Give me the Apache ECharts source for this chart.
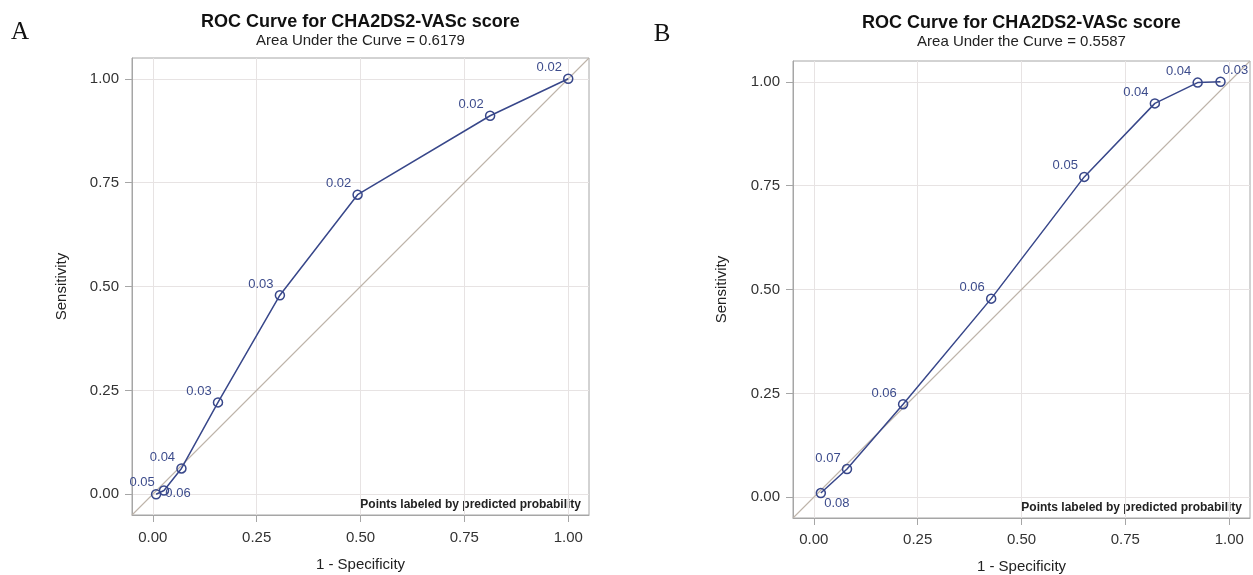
<!DOCTYPE html>
<html>
<head>
<meta charset="utf-8">
<script src="https://cdn.jsdelivr.net/npm/echarts@6/dist/echarts.min.js"></script>
<style>
  html, body { margin: 0; padding: 0; background: #ffffff; }
  #chart { width: 1253px; height: 575px; }
</style>
</head>
<body>
<div id="chart"></div>
<script>
// ---- data ----
const panelLetters = ['A', 'B'];
const chartTitle = 'ROC Curve for CHA2DS2-VASc score';
const aucValues = ['0.6179', '0.5587'];
const tickValues = [0, 0.25, 0.5, 0.75, 1];
const axisRange = [-0.05, 1.05];
const xAxisTitle = '1 - Specificity';
const yAxisTitle = 'Sensitivity';
const footnote = 'Points labeled by predicted probability';

const rocA_fpr = [0.008, 0.027, 0.069, 0.157, 0.306, 0.493, 0.812, 1.0];
const rocA_tpr = [0.000, 0.009, 0.062, 0.221, 0.479, 0.721, 0.911, 1.0];
const rocA_labels = ['0.05', '0.06', '0.04', '0.03', '0.03', '0.02', '0.02', '0.02'];

const rocB_fpr = [0.017, 0.080, 0.215, 0.427, 0.651, 0.821, 0.924, 0.979];
const rocB_tpr = [0.010, 0.068, 0.224, 0.478, 0.771, 0.948, 0.998, 1.0];
const rocB_labels = ['0.08', '0.07', '0.06', '0.06', '0.05', '0.04', '0.04', '0.03'];

const diagonal = [axisRange[0], axisRange[1]];

// ---- styling / layout ----
const FONT = '"Liberation Sans", Arial, sans-serif';
const lineColor = '#38478a';
const labelColor = '#3d4c8c';
const diagColor = '#bdb3a9';
const frameColor = '#a6a6a6';
const gridColor = '#e7e3e3';

const grids = [
  { left: 132, top: 58, width: 457, height: 457 },
  { left: 793, top: 61, width: 457, height: 457 }
];
const defaultOffset = [-19, -11];
const offsetOverrides = [
  { 0: [-14, -12], 1: [14, 3] },
  { 0: [16, 10], 7: [15, -11] }
];
const panels = [
  { fpr: rocA_fpr, tpr: rocA_tpr, labels: rocA_labels },
  { fpr: rocB_fpr, tpr: rocB_tpr, labels: rocB_labels }
];

function fmt(v) { return Number(v).toFixed(2); }

const xAxes = grids.map((g, i) => ({
  type: 'value', gridIndex: i, min: axisRange[0], max: axisRange[1], position: 'bottom',
  axisLine: { show: true, onZero: false, lineStyle: { color: frameColor, width: 1 } },
  axisTick: { show: true, inside: false, length: 7, lineStyle: { color: frameColor }, customValues: tickValues },
  axisLabel: { show: true, customValues: tickValues, formatter: fmt, margin: i === 0 ? 15 : 14,
               color: '#333', fontSize: 15, fontFamily: FONT },
  splitLine: { show: true, lineStyle: { color: gridColor, width: 1 } }
}));
const yAxes = grids.map((g, i) => ({
  type: 'value', gridIndex: i, min: axisRange[0], max: axisRange[1], position: 'left',
  axisLine: { show: true, onZero: false, lineStyle: { color: frameColor, width: 1 } },
  axisTick: { show: true, inside: false, length: 7, lineStyle: { color: frameColor }, customValues: tickValues },
  axisLabel: { show: true, customValues: tickValues, formatter: fmt, margin: 13,
               color: '#333', fontSize: 15, fontFamily: FONT },
  splitLine: { show: true, lineStyle: { color: gridColor, width: 1 } }
}));

const series = [];
panels.forEach((p, i) => {
  series.push({
    type: 'line', xAxisIndex: i, yAxisIndex: i, silent: true,
    data: [[diagonal[0], diagonal[0]], [diagonal[1], diagonal[1]]],
    showSymbol: false, symbol: 'none',
    lineStyle: { color: diagColor, width: 1.1 }, z: 2, animation: false
  });
  series.push({
    type: 'line', xAxisIndex: i, yAxisIndex: i, silent: true,
    data: p.fpr.map((x, k) => {
      const off = offsetOverrides[i][k] || defaultOffset;
      return { value: [x, p.tpr[k]], label: { offset: off } };
    }),
    symbol: 'circle', symbolSize: 9, showAllSymbol: true,
    itemStyle: { color: 'rgba(255,255,255,0)', borderColor: lineColor, borderWidth: 1.5 },
    lineStyle: { color: lineColor, width: 1.5 },
    label: {
      show: true, position: 'inside',
      formatter: (prm) => p.labels[prm.dataIndex],
      color: labelColor, fontSize: 13, fontFamily: FONT
    },
    z: 3, animation: false
  });
});

const graphics = [];
const centersX = grids.map(g => g.left + g.width / 2);
const letterPos = [[20, 32], [662, 34]];
const titleY = [[21.7, 40.7], [22.7, 42.3]];
const xTitleY = [565, 566.5];
const yTitleX = [62, 722];
const footY = [505, 507.5];

function txt(x, y, text, font, fill, extra) {
  return Object.assign({
    type: 'text', x: x, y: y, silent: true,
    style: { text: text, font: font, fill: fill,
             align: 'center', verticalAlign: 'middle',
             textAlign: 'center', textVerticalAlign: 'middle' }
  }, extra || {});
}

grids.forEach((g, i) => {
  graphics.push(txt(letterPos[i][0], letterPos[i][1], panelLetters[i],
    '25px "Liberation Serif", "Times New Roman", serif', '#111'));
  graphics.push(txt(centersX[i], titleY[i][0], chartTitle, 'bold 18px ' + FONT, '#111'));
  graphics.push(txt(centersX[i], titleY[i][1], 'Area Under the Curve = ' + aucValues[i], '15px ' + FONT, '#222'));
  graphics.push(txt(centersX[i], xTitleY[i], xAxisTitle, '15px ' + FONT, '#222'));
  graphics.push(txt(yTitleX[i], g.top + g.height / 2, yAxisTitle, '15px ' + FONT, '#222',
    { rotation: Math.PI / 2 }));
  const fx = g.left + g.width - 8;
  graphics.push({
    type: 'text', x: fx, y: footY[i], silent: true,
    style: { text: footnote, font: 'bold 12px ' + FONT, fill: '#222',
             align: 'right', verticalAlign: 'middle',
             textAlign: 'right', textVerticalAlign: 'middle' }
  });
});

const chart = echarts.init(document.getElementById('chart'), null, { renderer: 'canvas' });
chart.setOption({
  backgroundColor: '#ffffff',
  animation: false,
  grid: grids.map(g => Object.assign({ show: true, borderColor: frameColor, borderWidth: 1,
                                       backgroundColor: 'transparent' }, g)),
  xAxis: xAxes,
  yAxis: yAxes,
  series: series,
  graphic: graphics
});
</script>
</body>
</html>
